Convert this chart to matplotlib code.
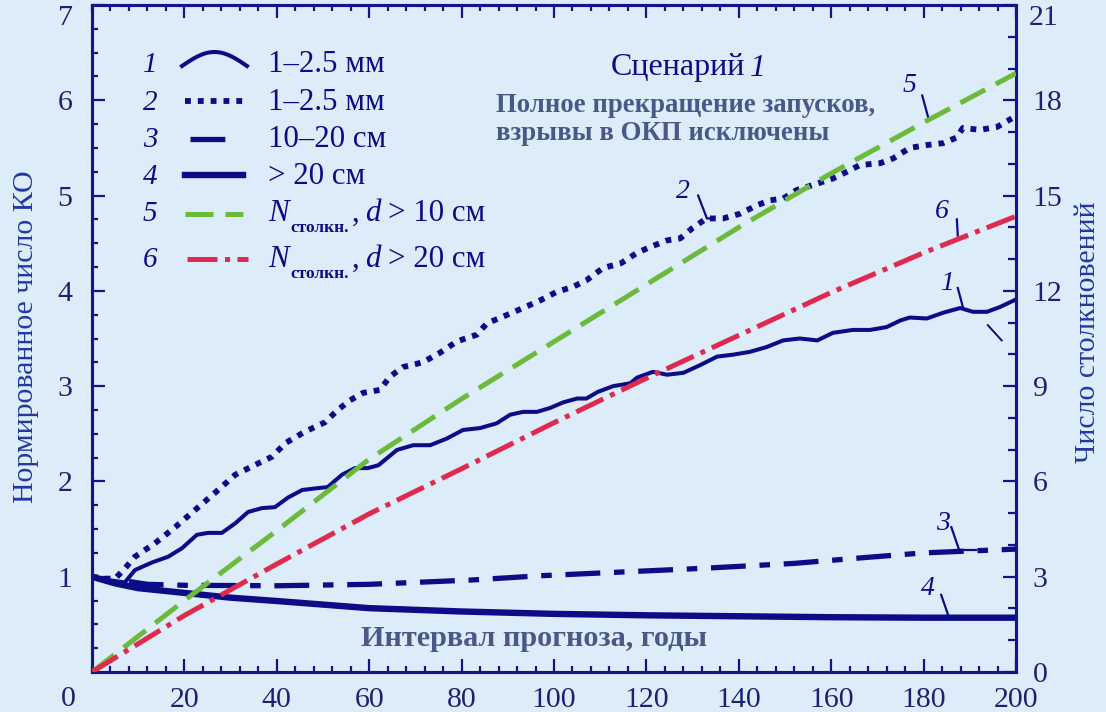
import numpy as np
import matplotlib
matplotlib.use("Agg")
import matplotlib.pyplot as plt
from matplotlib.lines import Line2D

plt.rcParams['font.family'] = ['Liberation Serif', 'DejaVu Serif']

# ---- data ----
# curve 1: 1-2.5 mm (solid, wavy), left axis
x1 = [0, 3.5, 7.1, 9.3, 13, 16.5, 19.5, 22.7, 25.1, 28.1, 31, 33.8, 36.8, 39.6, 42.4,
      45.5, 48.9, 51, 54.1, 56.9, 59.7, 62, 64, 66, 69.5, 73.2, 76.8, 80.3, 84, 87.6,
      90.5, 93.3, 96.3, 99.1, 102, 105, 107, 109.5, 112.8, 116.5, 118, 121.4, 124.5,
      128, 131.6, 135.3, 138.7, 142.4, 146, 149.6, 153.2, 157, 160.4, 164.7, 168.4,
      172, 175, 177, 180.7, 184.2, 187.9, 190.7, 193.7, 196.5, 200]
y1 = [1.0, 0.965, 0.94, 1.07, 1.15, 1.21, 1.30, 1.44, 1.46, 1.46, 1.56, 1.68, 1.72, 1.73,
      1.83, 1.91, 1.93, 1.94, 2.07, 2.14, 2.14, 2.17, 2.25, 2.33, 2.38, 2.38, 2.45, 2.54,
      2.56, 2.61, 2.70, 2.73, 2.73, 2.77, 2.83, 2.87, 2.87, 2.94, 3.00, 3.03, 3.09, 3.15,
      3.12, 3.14, 3.22, 3.31, 3.33, 3.36, 3.41, 3.48, 3.50, 3.48, 3.56, 3.59, 3.59, 3.62,
      3.69, 3.72, 3.71, 3.77, 3.82, 3.78, 3.78, 3.83, 3.91]

# curve 2: 1-2.5 mm (dotted), left axis
x2 = [0, 3, 5, 7, 9.3, 13.6, 18, 22.3, 26.6, 31, 36, 39, 41.8, 46, 50.4, 53.2, 55.8,
      58.7, 62.3, 64.5, 67.3, 71.6, 75.3, 79, 83.3, 85.5, 89, 93.3, 97, 100.6, 104, 107,
      110.6, 114.5, 118, 120.8, 124.5, 127.3, 130, 133, 136.6, 140.3, 144, 146.8, 149.6,
      152.6, 156, 160.4, 163.4, 166.2, 170.6, 173.4, 177, 180.7, 184.2, 187.2, 188.5,
      192.2, 195.9, 199.1]
y2 = [1.0, 0.98, 0.98, 1.08, 1.21, 1.35, 1.52, 1.70, 1.88, 2.07, 2.19, 2.26, 2.40, 2.52,
      2.62, 2.75, 2.85, 2.93, 2.96, 3.10, 3.20, 3.25, 3.35, 3.47, 3.54, 3.66, 3.73, 3.82,
      3.90, 3.99, 4.04, 4.11, 4.24, 4.29, 4.40, 4.46, 4.53, 4.55, 4.66, 4.76, 4.76, 4.81,
      4.90, 4.95, 4.97, 5.06, 5.11, 5.18, 5.25, 5.32, 5.34, 5.39, 5.50, 5.53, 5.55, 5.61,
      5.71, 5.69, 5.72, 5.81]

# curve 3: 10-20 cm, left axis
x3 = [8, 12, 20, 40, 60, 82, 97, 115, 133, 152, 167, 180, 200]
y3 = [0.95, 0.92, 0.91, 0.905, 0.92, 0.965, 1.01, 1.05, 1.09, 1.14, 1.20, 1.25, 1.29]

# curve 4: > 20 cm, left axis
x4 = [0, 5, 10, 20, 30, 40, 60, 80, 100, 120, 140, 160, 180, 200]
y4 = [1.0, 0.93, 0.88, 0.83, 0.78, 0.745, 0.67, 0.635, 0.61, 0.595, 0.585, 0.575, 0.57, 0.57]

# curves 5, 6: number of collisions, right axis
x56 = [0, 20, 40, 60, 80, 100, 120, 140, 160, 180, 200]
y5 = [0, 2.25, 4.45, 6.7, 8.6, 10.4, 12.2, 14.0, 15.7, 17.3, 18.85]
y6 = [0, 1.78, 3.4, 4.98, 6.4, 7.85, 9.25, 10.6, 11.95, 13.2, 14.35]

xticks = [20, 40, 60, 80, 100, 120, 140, 160, 180, 200]
yticks_left = [1, 2, 3, 4, 5, 6, 7]
yticks_right = [0, 3, 6, 9, 12, 15, 18, 21]

# ---- style ----
W, H = 1106, 712
BG = '#dcedf9'
NAVY = '#0c0c86'
AXC = '#14148a'
TICKC = '#1b2370'
LABC = '#2437a0'
GRAYB = '#4a5888'
GREEN = '#6cba3c'
RED = '#e0294e'
TFS = 21.5


def fx(px):
    return px / W


def fy(py):
    return 1 - py / H


fig = plt.figure(figsize=(W / 100, H / 100), dpi=100, facecolor=BG)
ax = fig.add_axes([fx(92), fy(672), fx(1016) - fx(92), fy(5) - fy(672)])
ax.set_facecolor(BG)
ax2 = ax.twinx()

ax.set_xlim(0, 200)
ax.set_ylim(0, 7)
ax2.set_ylim(0, 21)

# lines
ax.plot(x4, y4, color=NAVY, lw=4.6, solid_capstyle='butt', zorder=4)
ax.plot(x3, y3, color=NAVY, lw=3.8, linestyle=(0, (6.6, 2.6, 2.0, 2.6)), zorder=4)
ax.plot(x2, y2, color=NAVY, lw=4.2, linestyle=(0, (1.0, 1.2)), zorder=4)
ax.plot(x1, y1, color=NAVY, lw=2.9, zorder=5)
ax2.plot(x56, y5, color=GREEN, lw=3.6, linestyle=(0, (5.6, 2.4)), zorder=3)
ax2.plot(x56, y6, color=RED, lw=3.6, linestyle=(0, (6.0, 1.5, 1.0, 1.5)), zorder=3)

# axes styling
for a in (ax, ax2):
    for s in a.spines.values():
        s.set_color(AXC)
        s.set_linewidth(2.2)

ax.set_xticks(xticks)
ax.set_xticks(np.arange(0, 201, 4), minor=True)
ax.set_yticks(yticks_left)
ax.set_yticklabels([str(v) if v != 7 else '' for v in yticks_left])
ax.set_yticks(np.arange(0, 7.01, 0.25), minor=True)
ax2.set_yticks(yticks_right)
ax2.set_yticklabels([str(v) if v != 21 else '' for v in yticks_right])
ax2.set_yticks(np.arange(0, 22, 1), minor=True)

ax.tick_params(which='both', direction='in', top=True, right=False, color=AXC, width=1.6)
ax.tick_params(which='major', length=9.5)
ax.tick_params(which='minor', length=4.5)
ax.tick_params(axis='x', which='major', labelsize=TFS, labelcolor=TICKC, pad=11)
ax.tick_params(axis='y', which='major', labelsize=TFS, labelcolor=TICKC, pad=14)
ax2.tick_params(which='both', direction='in', color=AXC, width=1.6)
ax2.tick_params(which='major', length=9.5, labelsize=TFS, labelcolor=TICKC, pad=12)
ax2.tick_params(which='minor', length=6)

# labels pushed inside the figure at the corners
fig.text(fx(68), fy(699), '0', fontsize=TFS, color=TICKC, ha='center', va='center')
fig.text(fx(66), fy(18), '7', fontsize=TFS, color=TICKC, ha='center', va='center')
fig.text(fx(1044), fy(18), '21', fontsize=TFS, color=TICKC, ha='center', va='center')

# axis labels
fig.text(fx(26), fy(337), 'Нормированное число КО', rotation=90, fontsize=21.5,
         color=LABC, ha='center', va='center')
fig.text(fx(1088), fy(332), 'Число столкновений', rotation=90, fontsize=21.5,
         color=LABC, ha='center', va='center')

# titles inside
fig.text(fx(611), fy(68), 'Сценарий', fontsize=23, color=NAVY, ha='left', va='center')
fig.text(fx(750), fy(68), '1', fontsize=23, color=NAVY, style='italic', ha='left', va='center')
fig.text(fx(496), fy(106), 'Полное прекращение запусков,', fontsize=19.3, fontweight='bold',
         color=GRAYB, ha='left', va='center')
fig.text(fx(496), fy(134), 'взрывы в ОКП исключены', fontsize=19.3, fontweight='bold',
         color=GRAYB, ha='left', va='center')
fig.text(fx(534), fy(639), 'Интервал прогноза, годы', fontsize=21.8, fontweight='bold',
         color=GRAYB, ha='center', va='center')

# curve labels with leader lines (left-axis data coords)
callouts = [
    ('1', 185.0, 4.08, [187.4, 188.5], [4.03, 3.83]),
    ('2', 128.0, 5.04, [131.2, 133.1, 134.4], [5.00, 4.76, 4.76]),
    ('3', 184.2, 1.56, [186.0, 187.7], [1.52, 1.28]),
    ('4', 181.0, 0.88, [183.8, 185.3], [0.81, 0.60]),
    ('5', 177.0, 6.16, [179.7, 181.0], [6.05, 5.82]),
    ('6', 184.0, 4.83, [187.2, 187.4], [4.75, 4.58]),
]
for lab, tx, ty, lx, ly in callouts:
    ax.text(tx, ty, lab, fontsize=20, style='italic', color=NAVY, ha='center', va='center', zorder=6)
    ax.plot(lx, ly, color=NAVY, lw=1.6, zorder=6)
ax.plot([186.5, 191.3], [1.28, 1.28], color=NAVY, lw=1.6, zorder=6)
ax.plot([193.9, 196.9], [3.64, 3.48], color=NAVY, lw=1.4, zorder=6)

# legend (hand drawn)
rows_y = [63, 101, 139, 175, 214, 259]
base_y = [72, 110, 147, 184, 221, 267]
for i, yb in enumerate(base_y):
    fig.text(fx(150), fy(yb), str(i + 1), fontsize=21, style='italic', color=NAVY,
             ha='center', va='baseline')

t = np.linspace(0, 1, 40)
fig.add_artist(Line2D(fx(182 + 65 * t), fy(66 - 14 * np.sin(np.pi * t)), color=NAVY, lw=2.9))
fig.add_artist(Line2D([fx(185), fx(247)], [fy(rows_y[1])] * 2, color=NAVY, lw=4.2,
                      linestyle=(0, (1.0, 1.2))))
fig.add_artist(Line2D([fx(190), fx(238)], [fy(rows_y[2])] * 2, color=NAVY, lw=3.8,
                      linestyle=(0, (6.6, 2.6, 2.0, 2.6))))
fig.add_artist(Line2D([fx(185), fx(243)], [fy(rows_y[3])] * 2, color=NAVY, lw=4.6))
fig.add_artist(Line2D([fx(185), fx(243)], [fy(rows_y[4])] * 2, color=GREEN, lw=3.6,
                      linestyle=(0, (5.6, 2.4))))
fig.add_artist(Line2D([fx(187), fx(248)], [fy(rows_y[5])] * 2, color=RED, lw=3.6,
                      linestyle=(0, (6.0, 1.5, 1.0, 1.5))))

LFS = 22.3
for yb in base_y[:2]:
    fig.text(fx(268), fy(yb), '1–2.5 мм', fontsize=LFS, color=NAVY, va='baseline')
fig.text(fx(268), fy(base_y[2]), '10–20 см', fontsize=LFS, color=NAVY, va='baseline')
fig.text(fx(268), fy(base_y[3]), '> 20 см', fontsize=LFS, color=NAVY, va='baseline')
for yb, size in ((base_y[4], '10'), (base_y[5], '20')):
    fig.text(fx(268), fy(yb), 'N', fontsize=LFS, style='italic', color=NAVY, va='baseline')
    fig.text(fx(290), fy(yb + 11), 'столкн.', fontsize=12.5, fontweight='bold', color=NAVY,
             va='baseline')
    fig.text(fx(352), fy(yb), ',', fontsize=LFS, color=NAVY, va='baseline')
    fig.text(fx(365), fy(yb), 'd', fontsize=LFS, style='italic', color=NAVY, va='baseline')
    fig.text(fx(388), fy(yb), '> ' + size + ' см', fontsize=LFS, color=NAVY, va='baseline')

fig.savefig('out.png', dpi=100, facecolor=BG)
